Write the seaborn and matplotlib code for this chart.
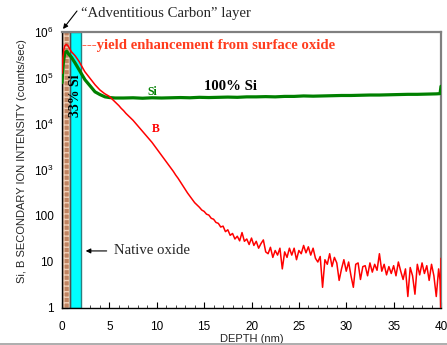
import numpy as np
import pandas as pd
import matplotlib
matplotlib.use("Agg")
import matplotlib.pyplot as plt
from matplotlib.lines import Line2D
from matplotlib.ticker import FixedLocator, FixedFormatter, LogLocator, MultipleLocator
import seaborn as sns

# ---------------- data ----------------
# B profile (counts/sec), early part sampled irregularly
b_depth_early = [0.0, 0.1, 0.2, 0.3, 0.45, 0.6, 0.8, 1.0, 1.4, 1.8, 2.4, 3.0, 3.5, 4.0, 4.5]
b_log_early = [5.10, 5.45, 5.62, 5.70, 5.73, 5.71, 5.64, 5.57, 5.48, 5.36, 5.14, 4.98, 4.85, 4.74, 4.66]

# B profile, 5 nm .. 40 nm on the instrument's 0.25 nm grid (log10 counts/sec)
b_log_main = [
    4.60, 4.55, 4.50, 4.45, 4.40, 4.34, 4.29, 4.23, 4.18, 4.13,   # 5.0 - 7.25
    4.08, 4.02, 3.96, 3.90, 3.84, 3.78, 3.72, 3.66, 3.60, 3.53,   # 7.5 - 9.75
    3.46, 3.39, 3.32, 3.25, 3.18, 3.11, 3.04, 2.97, 2.89, 2.82,   # 10.0 - 12.25
    2.74, 2.66, 2.58, 2.50, 2.43, 2.36, 2.29, 2.24, 2.19, 2.13,   # 12.5 - 14.75
    2.10, 2.04, 2.02, 1.95, 1.93, 1.86, 1.84, 1.76, 1.78, 1.66,   # 15.0 - 17.25
    1.70, 1.58, 1.62, 1.50, 1.56, 1.46, 1.64, 1.45, 1.50, 1.38,   # 17.5 - 19.75
    1.52, 1.36, 1.45, 1.30, 1.40, 1.48, 1.22, 1.18, 1.32, 1.10,   # 20.0 - 22.25
    1.25, 1.15, 1.30, 0.85, 1.22, 1.10, 1.30, 1.15, 1.30, 1.05,   # 22.5 - 24.75
    1.25, 1.18, 1.36, 1.20, 1.33, 1.15, 1.30, 1.08, 1.00, 1.12,   # 25.0 - 27.25
    0.45, 1.05, 0.95, 1.18, 0.90, 1.10, 0.98, 0.60, 0.85, 1.05,   # 27.5 - 29.75
    0.80, 1.00, 0.70, 0.45, 0.95, 0.98, 0.62, 0.90, 0.92, 0.70,   # 30.0 - 32.25
    0.98, 0.78, 0.95, 0.82, 1.18, 0.80, 0.95, 0.72, 0.90, 0.75,   # 32.5 - 34.75
    0.92, 0.70, 1.00, 0.80, 0.62, 0.85, 0.25, 0.88, 0.70, 0.30,   # 35.0 - 37.25
    0.95, 0.72, 0.98, 0.75, 0.92, 0.60, 0.95, 0.70, 0.25, 0.85,   # 37.5 - 39.75
]
b_depth_tail = [39.9, 39.97, 40.0]
b_log_tail = [0.60, 0.0, 1.08]

# Si profile (log10 counts/sec)
si_depth = [0.0, 0.15, 0.3, 0.5, 0.7, 1.0, 1.37, 1.8, 2.43, 3.0, 3.48, 4.0, 4.54, 5.0, 5.6,
            6.5, 7.5, 8.5, 9.5, 10.5, 11.5, 12.5, 13.5, 14.5, 15.5, 16.5, 17.5, 18.5, 19.5,
            20.5, 21.5, 22.5, 23.5, 24.5, 25.5, 26.5, 27.5, 28.5, 29.5, 30.5, 31.5, 32.5,
            33.5, 34.5, 35.5, 36.5, 37.5, 38.5, 39.5, 39.9, 40.0]
si_log = [4.90, 5.35, 5.55, 5.58, 5.52, 5.45, 5.33, 5.18, 4.96, 4.82, 4.70, 4.64, 4.59, 4.575, 4.565,
          4.565, 4.57, 4.56, 4.57, 4.565, 4.57, 4.575, 4.57, 4.58, 4.575, 4.58, 4.585, 4.58, 4.59,
          4.59, 4.595, 4.59, 4.60, 4.60, 4.61, 4.605, 4.61, 4.615, 4.62, 4.62, 4.625, 4.63,
          4.63, 4.635, 4.64, 4.645, 4.645, 4.65, 4.655, 4.66, 4.82]

# layer bars (depth extents, nm)
carbon_layer = (0.0, 0.8)
oxide_layer = (0.8, 2.0)

x_ticks = [0, 5, 10, 15, 20, 25, 30, 35, 40]
y_ticks = [1, 10, 100, 1e3, 1e4, 1e5, 1e6]
y_tick_labels = ["1", "10", "100", r"$\mathregular{10^{3}}$", r"$\mathregular{10^{4}}$",
                 r"$\mathregular{10^{5}}$", r"$\mathregular{10^{6}}$"]

# ---------------- build frames ----------------
b_depth = b_depth_early + list(np.arange(len(b_log_main)) * 0.25 + 5.0) + b_depth_tail
b_log = b_log_early + b_log_main + b_log_tail
df_b = pd.DataFrame({"depth": b_depth, "intensity": 10 ** np.array(b_log)})
df_si = pd.DataFrame({"depth": si_depth, "intensity": 10 ** np.array(si_log)})

# ---------------- style ----------------
sns.set_style("ticks")
plt.rcParams["font.family"] = ["Liberation Sans", "DejaVu Sans"]
plt.rcParams["mathtext.fontset"] = "custom"
plt.rcParams["mathtext.rm"] = "Liberation Sans"

fig = plt.figure(figsize=(4.47, 3.45), dpi=100)
ax = fig.add_axes([62 / 447, 37 / 345, 379 / 447, 276 / 345])

# layer bars
ax.axvspan(*carbon_layer, facecolor="#c08462", edgecolor="#f0d0b8", hatch="+++",
           linewidth=0, zorder=1)
ax.axvspan(*carbon_layer, facecolor="none", edgecolor="#505050", linewidth=1.0, zorder=1.5)
ax.axvspan(*oxide_layer, facecolor="#00ffff", edgecolor="#2a7f7f", linewidth=1.0, zorder=1)

sns.lineplot(data=df_si, x="depth", y="intensity", color="#008000", linewidth=2.3,
             ax=ax, zorder=3)
sns.lineplot(data=df_b, x="depth", y="intensity", color="#ff0000", linewidth=1.1,
             ax=ax, zorder=4)

ax.set_yscale("log")
ax.set_xlim(0, 40)
ax.set_ylim(1, 1e6)

ax.xaxis.set_major_locator(FixedLocator(x_ticks))
ax.xaxis.set_minor_locator(MultipleLocator(1))
ax.yaxis.set_major_locator(FixedLocator(y_ticks))
ax.yaxis.set_major_formatter(FixedFormatter(y_tick_labels))
ax.yaxis.set_minor_locator(LogLocator(base=10, subs=np.arange(2, 10), numticks=20))
ax.tick_params(axis="both", which="major", direction="in", length=4, width=0.8,
               labelsize=8.5, colors="black")
ax.tick_params(axis="both", which="minor", direction="in", length=2.5, width=0.6)
ax.tick_params(axis="x", which="major", pad=9.5)
ax.tick_params(axis="y", which="major", pad=6)

for s in ["top", "right"]:
    ax.spines[s].set_color("#808080")
    ax.spines[s].set_linewidth(1.6)
for s in ["bottom", "left"]:
    ax.spines[s].set_color("black")
    ax.spines[s].set_linewidth(1.0)

ax.set_xlabel("DEPTH (nm)", fontsize=8)
ax.xaxis.set_label_coords(0.5, -0.096)
ax.set_ylabel("Si, B SECONDARY ION INTENSITY (counts/sec)", fontsize=8)
ax.yaxis.set_label_coords(-0.092, 0.533)

serif = ["Liberation Serif", "DejaVu Serif"]
ax.text(2.1, 5.2e5, "---yield enhancement from surface oxide", color="#ff3c1e",
        fontsize=10.6, fontweight="bold", family=serif, va="center", ha="left", zorder=6)
ax.text(15.0, 6.7e4, "100% Si", color="black", fontsize=10.6, fontweight="bold",
        family=serif, va="center", ha="left", zorder=6)
ax.text(9.0, 5.0e4, "Si", color="#008000", fontsize=8.5, fontweight="bold",
        family=serif, va="center", ha="left", zorder=6)
ax.text(9.5, 7.8e3, "B", color="#ff0000", fontsize=8.5, fontweight="bold",
        family=serif, va="center", ha="left", zorder=6)
ax.text(1.4, 4.1e4, "33% Si", color="black", fontsize=10, fontweight="bold",
        family=serif, va="center", ha="center", rotation=90, zorder=6)

ax.annotate("Native oxide", xy=(2.5, 17.4), xytext=(5.5, 17.4),
            fontsize=10.6, family=serif, va="center", ha="left",
            arrowprops=dict(arrowstyle="-|>", color="black", lw=0.8,
                            mutation_scale=7, shrinkA=3, shrinkB=0), zorder=6)

fig.text(81 / 447, 1 - 14 / 345, "\u201cAdventitious Carbon\u201d layer", fontsize=10.6,
         family=serif, va="center", ha="left")
ax.annotate("", xy=(63 / 447, 1 - 29 / 345), xycoords="figure fraction",
            xytext=(77 / 447, 1 - 11 / 345), textcoords="figure fraction",
            arrowprops=dict(arrowstyle="-|>", color="black", lw=0.8,
                            mutation_scale=7, shrinkA=0, shrinkB=0),
            annotation_clip=False)

fig.add_artist(Line2D([0, 1], [1 - 344 / 345, 1 - 344 / 345], color="#a0a0a0",
                      linewidth=1.2, transform=fig.transFigure))

fig.savefig("out.png", dpi=100, facecolor="white")
